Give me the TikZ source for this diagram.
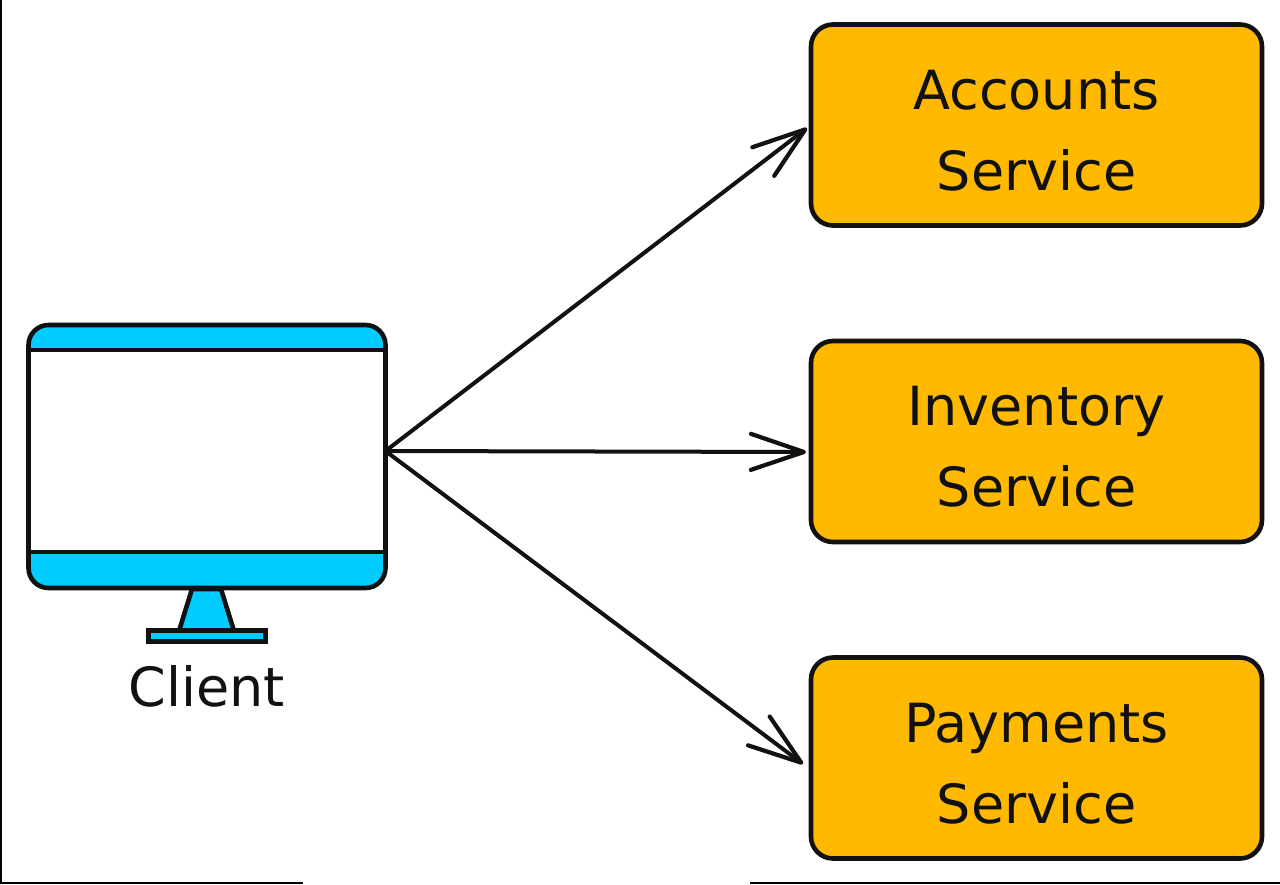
\documentclass[tikz,border=0pt]{standalone}
\usepackage{fontspec}
\setmainfont{DejaVu Sans}
\usetikzlibrary{arrows.meta}
\definecolor{amberbox}{HTML}{FFB900}
\definecolor{skybar}{HTML}{00CCFF}
\definecolor{inkline}{HTML}{111111}
\newcommand\servicelines[1]{\rule{0pt}{50pt}#1\\Service}
\tikzset{
  service/.style={draw=inkline,fill=amberbox,line width=4.6pt,rounded corners=22pt,minimum width=451pt,minimum height=201pt,outer sep=0pt,align=center,text=inkline,font=\fontsize{54}{81}\selectfont},
  monitorpart/.style={draw=inkline,line width=4.6pt,outer sep=0pt,inner sep=0pt},
  link/.style={draw=inkline,line width=4pt,-{Straight Barb[length=53pt,width=36pt,line width=4.2pt,round]},shorten >=5pt,line cap=round},
}
\begin{document}
\begin{tikzpicture}[x=1pt,y=-1pt]
\useasboundingbox (0,0) rectangle (1280,884);
\fill[white] (0,0) rectangle (1280,884);
% image edge lines
\fill[black] (0,0) rectangle (1.5,884);
\fill[black] (0,882) rectangle (303,884);
\fill[black] (750,882) rectangle (1280,884);
% monitor
\node[monitorpart,fill=skybar,rounded corners=20pt,minimum width=357pt,minimum height=263pt] (monitor) at (207,456.5) {};
\node[monitorpart,fill=white,minimum width=357pt,minimum height=202pt] (screen) at (207,451) {};
\draw[monitorpart,fill=skybar,line join=round] (192,589) -- (179,631) -- (234,631) -- (221,589) -- cycle;
\node[monitorpart,fill=skybar,minimum width=117pt,minimum height=11pt] (base) at (207,636) {};
\node[anchor=base,text=inkline,font=\fontsize{54}{66}\selectfont] (client) at (207,706) {Client};
% services
\node[service] (accounts) at (1036.5,125) {\servicelines{Accounts}};
\node[service] (inventory) at (1036.5,441.5) {\servicelines{Inventory}};
\node[service] (payments) at (1036.5,758) {\servicelines{Payments}};
% connectors
\coordinate (inventoryin) at ([yshift=-10.5pt]inventory.west);
\coordinate (paymentsin) at ([yshift=-12pt]payments.west);
\draw[link] (screen.east) -- (accounts.west);
\draw[link] (screen.east) -- (inventoryin);
\draw[link,shorten >=10pt] (screen.east) -- (paymentsin);
\end{tikzpicture}
\end{document}
